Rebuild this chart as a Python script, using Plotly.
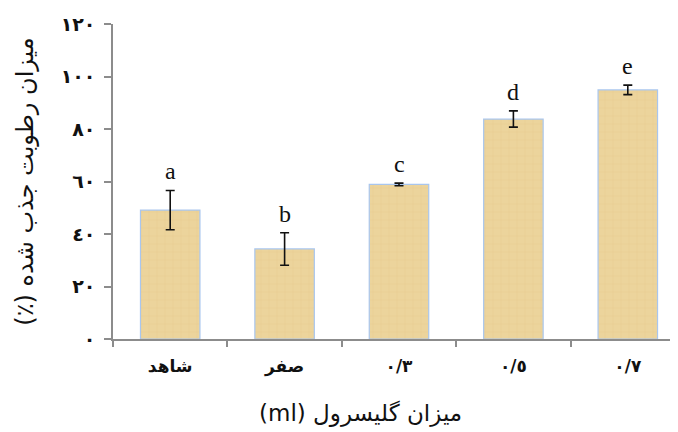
import plotly.graph_objects as go

categories = ["شاهد", "صفر", "٠/٣", "٠/٥", "٠/٧"]
values = [49.1, 34.3, 58.9, 83.8, 94.9]
errors = [7.5, 6.2, 0.5, 3.1, 1.8]
letters = ["a", "b", "c", "d", "e"]
y_ticks = [0, 20, 40, 60, 80, 100, 120]
y_tick_labels = ["٠", "٢٠", "٤٠", "٦٠", "٨٠", "١٠٠", "١٢٠"]

RLE, PDF = "\u202B", "\u202C"
x_title = RLE + "میزان گلیسرول (ml)" + PDF
y_title = RLE + "میزان رطوبت جذب شده (٪)" + PDF

fig = go.Figure()
fig.add_trace(go.Bar(
    x=categories, y=values, width=0.52,
    marker=dict(color="#ECD49C", line=dict(color="#A9C6EE", width=1.2),
                pattern=dict(shape="+", fgcolor="#DCBE7C", size=8, solidity=0.1)),
    error_y=dict(type="data", array=errors, visible=True, color="#111111",
                 thickness=1.6, width=4.5),
    hoverinfo="skip",
))

for cat, v, e, lt in zip(categories, values, errors, letters):
    fig.add_annotation(x=cat, y=v + e, text=lt, showarrow=False,
                       yanchor="bottom", yshift=4,
                       font=dict(family="Liberation Serif", size=24, color="#111111"))

fig.add_annotation(xref="paper", yref="paper", x=0.432, y=-0.238,
                   xanchor="center", yanchor="middle", showarrow=False,
                   text=x_title, font=dict(family="DejaVu Sans", size=23, color="#111111"))

fig.update_layout(
    width=678, height=432,
    margin=dict(l=105, r=1, t=16, b=101, autoexpand=False),
    plot_bgcolor="white", paper_bgcolor="white",
    showlegend=False,
    font=dict(family="DejaVu Sans", color="#111111"),
    xaxis=dict(
        range=[-0.5, 4.5], showline=True, linecolor="#8C8C8C", linewidth=1.5,
        ticks="outside", tickson="boundaries", ticklen=6, tickcolor="#8C8C8C",
        tickwidth=1.5, tickfont=dict(family="DejaVu Sans", size=17, weight="bold"),
        ticklabelstandoff=11, automargin=False,
        showgrid=False, zeroline=False,
    ),
    yaxis=dict(
        range=[0, 120], tickvals=y_ticks, ticktext=y_tick_labels,
        showline=True, linecolor="#8C8C8C", linewidth=1.5,
        ticks="outside", ticklen=7, tickcolor="#8C8C8C", tickwidth=1.5,
        tickfont=dict(family="DejaVu Sans", size=19, weight="bold"), ticklabelstandoff=5,
        automargin=False,
        title=dict(text=y_title, font=dict(family="DejaVu Sans", size=24), standoff=20),
        showgrid=False, zeroline=False,
    ),
)

fig.write_html("out.html")
